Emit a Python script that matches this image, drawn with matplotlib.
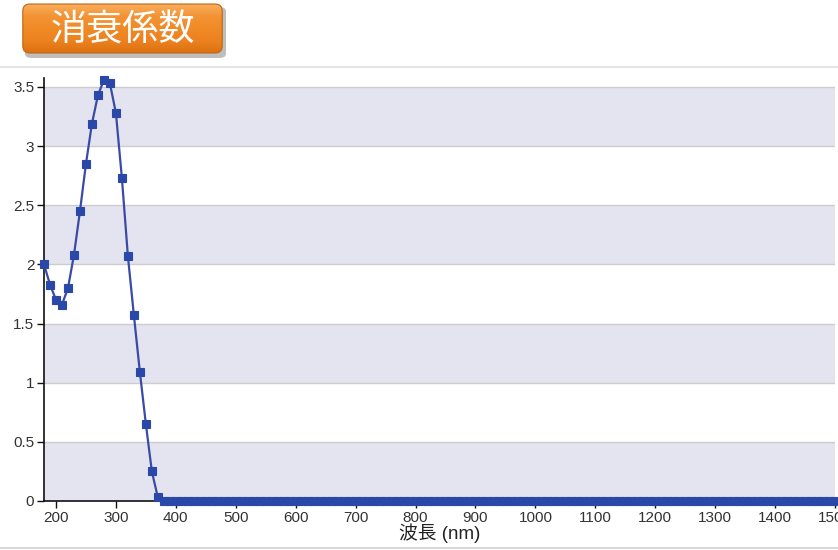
import numpy as np
import matplotlib
matplotlib.use("Agg")
import matplotlib.pyplot as plt
from matplotlib.patches import FancyBboxPatch
from matplotlib.lines import Line2D
from matplotlib.colors import LinearSegmentedColormap

plt.rcParams['font.family'] = ['Liberation Sans', 'Noto Sans CJK JP', 'DejaVu Sans']

# Extinction coefficient spectrum (k) versus wavelength
wl_peak = [180, 190, 200, 210, 220, 230, 240, 250, 260, 270, 280, 290,
           300, 310, 320, 330, 340, 350, 360, 370]
k_peak = [2.00, 1.83, 1.70, 1.66, 1.80, 2.08, 2.45, 2.85, 3.19, 3.43, 3.56, 3.53,
          3.28, 2.73, 2.07, 1.57, 1.09, 0.65, 0.25, 0.03]
wl_flat = list(range(380, 1510, 10))
k_flat = [0.0] * len(wl_flat)
wavelength = wl_peak + wl_flat
k_values = k_peak + k_flat

title_text = "消衰係数"
x_label = "波長 (nm)"
x_ticks = list(range(200, 1600, 100))
y_ticks = [0, 0.5, 1, 1.5, 2, 2.5, 3, 3.5]
y_tick_labels = ["0", "0.5", "1", "1.5", "2", "2.5", "3", "3.5"]

W, H = 838, 550
fig = plt.figure(figsize=(W / 100, H / 100), dpi=100)
fig.patch.set_facecolor("white")

# frame lines around the chart panel
fig.add_artist(Line2D([0, 1], [1 - 67 / H, 1 - 67 / H], color="#e6e6e6", lw=1.5))
fig.add_artist(Line2D([0, 1], [1 - 548 / H, 1 - 548 / H], color="#cfcfcf", lw=1.2))

left, right, top, bottom = 44, 835, 78, 501
ax = fig.add_axes([left / W, 1 - bottom / H, (right - left) / W, (bottom - top) / H])
ax.set_xlim(180, 1500)
ax.set_ylim(0, 3.576)

# alternating horizontal bands
for lo in [0, 1, 2, 3]:
    ax.axhspan(lo, lo + 0.5, color="#e4e4f0", zorder=0, lw=0)
for y in y_ticks[1:]:
    ax.axhline(y, color="#cccccc", lw=1.0, zorder=1)

ax.plot(wavelength, k_values, color="#3a4aa6", lw=1.6, marker="s",
        markersize=5.6, markerfacecolor="#2a48a8", markeredgecolor="#2a48a8",
        markeredgewidth=0.8, zorder=3, clip_on=False)

ax.set_xticks(x_ticks)
ax.set_yticks(y_ticks)
ax.set_yticklabels(y_tick_labels)
ax.tick_params(axis="both", direction="out", length=5, width=1.0,
               labelsize=11, colors="#111111", labelcolor="#333333", pad=2)
for s in ["top", "right"]:
    ax.spines[s].set_visible(False)
for s in ["left", "bottom"]:
    ax.spines[s].set_color("#111111")
    ax.spines[s].set_linewidth(1.2)
ax.set_xlabel(x_label, fontsize=13.5, color="#222222", labelpad=-1)

# title badge: orange gradient rounded box with shadow
bx0, by0, bx1, by1 = 22, 3, 223, 54
shadow = FancyBboxPatch(((bx0 + 3) / W, 1 - (by1 + 4) / H),
                        (bx1 - bx0) / W, (by1 - by0) / H,
                        boxstyle="round,pad=0,rounding_size=0.008",
                        transform=fig.transFigure, facecolor="#8a8a8a",
                        edgecolor="none", alpha=0.55, zorder=1)
fig.add_artist(shadow)

bax = fig.add_axes([bx0 / W, 1 - by1 / H, (bx1 - bx0) / W, (by1 - by0) / H])
bax.set_zorder(5)
bax.set_axis_off()
bax.patch.set_alpha(0)
# row 0 sits at the top of the badge: light highlight fading to deeper orange
grad = np.linspace(0, 1, 100).reshape(-1, 1)
cmap = LinearSegmentedColormap.from_list(
    "badge", ["#f9b060", "#f49435", "#f08a25", "#ec8120", "#dc7010"])
bax.set_xlim(0, 1)
bax.set_ylim(0, 1)
img = bax.imshow(grad, aspect="auto", cmap=cmap, extent=[0, 1, 0, 1], zorder=1)
clip = FancyBboxPatch((0.004, 0.02), 0.992, 0.96,
                      boxstyle="round,pad=0,rounding_size=0.035",
                      transform=bax.transAxes, facecolor="none",
                      edgecolor="#c0650f", lw=0.8,
                      mutation_aspect=(bx1 - bx0) / (by1 - by0))
bax.add_patch(clip)
img.set_clip_path(clip)
bax.text(0.5, 0.46, title_text, color="white", fontsize=26, ha="center",
         va="center", transform=bax.transAxes, zorder=3,
         family=['Noto Sans CJK JP', 'DejaVu Sans'])

fig.savefig("out.png", dpi=100, facecolor="white")
